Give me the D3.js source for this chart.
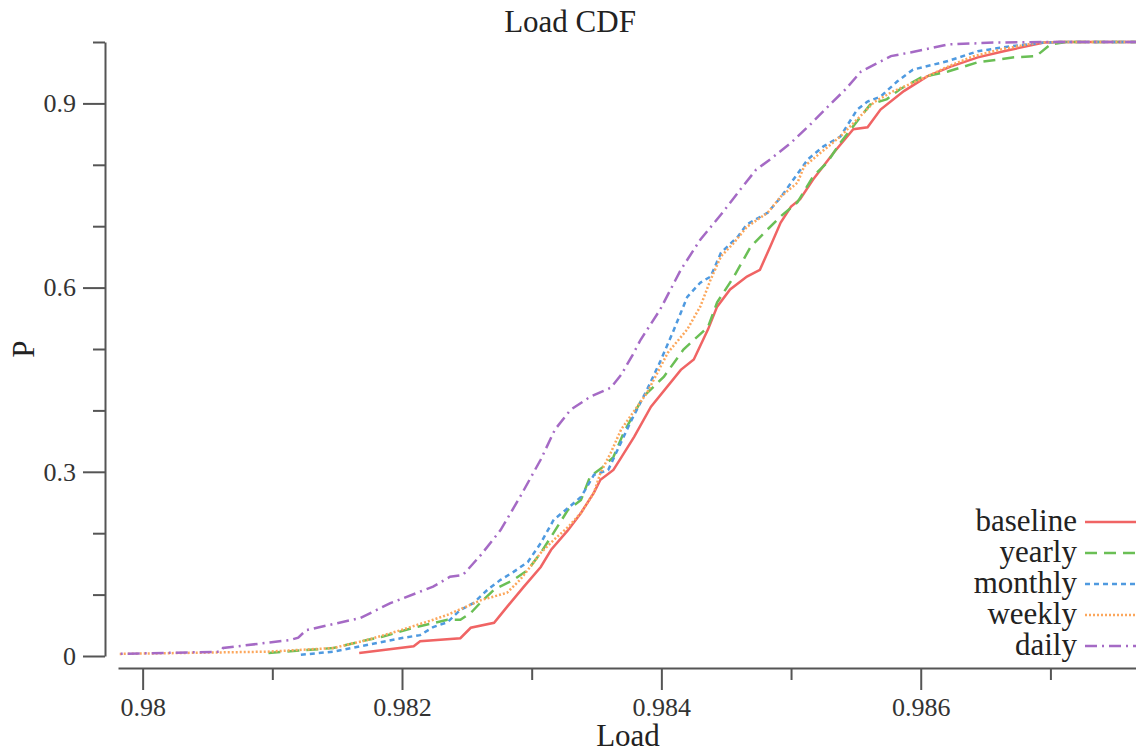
<!DOCTYPE html>
<html lang="en">
    <head>
        <meta charset="utf-8">
        <title>Load CDF</title>
        <script type="text/javascript" src="https://cdn.jsdelivr.net/npm/d3@7"></script>
        <style type="text/css">
            body { margin: 0; background: white; }
            svg { display: block; font-family: "Liberation Serif", "DejaVu Serif", serif; }
            .axis path,
            .axis line {
                fill: none;
                stroke: #555;
                stroke-width: 2px;
            }
            .axis text {
                font-family: "Liberation Serif", serif;
                font-size: 26px;
                fill: #333;
            }
        </style>
    </head>
    <body>
        <script type="text/javascript">

            // Width and height
            var w = 1136;
            var h = 752;

            // Series names, in legend order
            var seriesNames = ["baseline", "yearly", "monthly", "weekly", "daily"];

            // Tick values
            var xMajorTicks = [0.98, 0.982, 0.984, 0.986];
            var xMinorTicks = [0.981, 0.983, 0.985, 0.987];
            var yMajorTicks = [0, 0.3, 0.6, 0.9];
            var yMinorTicks = [0.1, 0.2, 0.4, 0.5, 0.7, 0.8, 1.0];

            // Load values and cumulative probability
            var baselineLoad = [0.98167, 0.98209, 0.98214, 0.98245, 0.98253, 0.98271, 0.98281, 0.98294, 0.98307, 0.98315, 0.98328, 0.98338, 0.98348, 0.98353, 0.98363, 0.98369, 0.98379, 0.98392, 0.98415, 0.98425, 0.98436, 0.98443, 0.98453, 0.98466, 0.98476, 0.98484, 0.98492, 0.98500, 0.98507, 0.98517, 0.98533, 0.98548, 0.98559, 0.98569, 0.98587, 0.98605, 0.98623, 0.98644, 0.98664, 0.98695, 0.98708, 0.98770];
            var baselineP    = [0.005, 0.016, 0.024, 0.029, 0.046, 0.054, 0.080, 0.113, 0.145, 0.173, 0.205, 0.233, 0.266, 0.287, 0.303, 0.323, 0.357, 0.406, 0.466, 0.483, 0.532, 0.569, 0.597, 0.618, 0.629, 0.667, 0.706, 0.732, 0.744, 0.776, 0.820, 0.858, 0.861, 0.890, 0.920, 0.944, 0.960, 0.975, 0.985, 0.999, 1.0, 1.0];

            var yearlyLoad = [0.98097, 0.98147, 0.98173, 0.98184, 0.98209, 0.98235, 0.98245, 0.98253, 0.98261, 0.98271, 0.98286, 0.98297, 0.98307, 0.98317, 0.98328, 0.98338, 0.98345, 0.98355, 0.98363, 0.98371, 0.98386, 0.98402, 0.98417, 0.98436, 0.98443, 0.98456, 0.98469, 0.98482, 0.98492, 0.98505, 0.98517, 0.98528, 0.98538, 0.98548, 0.98561, 0.98574, 0.98584, 0.98600, 0.98621, 0.98644, 0.98672, 0.98689, 0.98700, 0.98712, 0.98770];
            var yearlyP    = [0.005, 0.013, 0.026, 0.031, 0.046, 0.059, 0.059, 0.070, 0.088, 0.108, 0.124, 0.140, 0.168, 0.201, 0.238, 0.254, 0.292, 0.308, 0.324, 0.364, 0.422, 0.455, 0.499, 0.536, 0.576, 0.618, 0.667, 0.695, 0.716, 0.739, 0.781, 0.804, 0.836, 0.863, 0.898, 0.907, 0.923, 0.942, 0.952, 0.967, 0.975, 0.977, 0.996, 1.0, 1.0];

            var monthlyLoad = [0.98122, 0.98147, 0.98199, 0.98214, 0.98224, 0.98235, 0.98245, 0.98255, 0.98266, 0.98276, 0.98286, 0.98297, 0.98307, 0.98317, 0.98328, 0.98338, 0.98348, 0.98359, 0.98376, 0.98389, 0.98399, 0.98409, 0.98420, 0.98430, 0.98438, 0.98446, 0.98459, 0.98466, 0.98482, 0.98492, 0.98513, 0.98525, 0.98538, 0.98551, 0.98559, 0.98569, 0.98582, 0.98594, 0.98621, 0.98644, 0.98669, 0.98695, 0.98708, 0.98770];
            var monthlyP    = [0.002, 0.007, 0.029, 0.034, 0.047, 0.055, 0.075, 0.086, 0.108, 0.124, 0.137, 0.153, 0.184, 0.222, 0.241, 0.259, 0.295, 0.303, 0.380, 0.434, 0.479, 0.528, 0.585, 0.608, 0.618, 0.657, 0.683, 0.703, 0.722, 0.747, 0.809, 0.830, 0.846, 0.890, 0.903, 0.911, 0.936, 0.955, 0.969, 0.985, 0.993, 0.999, 1.0, 1.0];

            var weeklyLoad = [0.97970, 0.98096, 0.98147, 0.98173, 0.98199, 0.98224, 0.98235, 0.98261, 0.98281, 0.98291, 0.98297, 0.98307, 0.98317, 0.98328, 0.98338, 0.98348, 0.98353, 0.98361, 0.98369, 0.98389, 0.98405, 0.98420, 0.98430, 0.98438, 0.98446, 0.98456, 0.98466, 0.98482, 0.98492, 0.98505, 0.98510, 0.98523, 0.98538, 0.98551, 0.98564, 0.98579, 0.98600, 0.98621, 0.98641, 0.98662, 0.98690, 0.98708, 0.98770];
            var weeklyP    = [0.003, 0.007, 0.013, 0.026, 0.042, 0.059, 0.067, 0.091, 0.103, 0.124, 0.140, 0.168, 0.189, 0.210, 0.233, 0.266, 0.298, 0.331, 0.369, 0.429, 0.494, 0.532, 0.569, 0.613, 0.651, 0.673, 0.699, 0.722, 0.748, 0.771, 0.797, 0.820, 0.846, 0.874, 0.902, 0.920, 0.939, 0.960, 0.977, 0.988, 0.999, 1.0, 1.0];

            var dailyLoad = [0.97970, 0.98060, 0.98062, 0.98114, 0.98120, 0.98126, 0.98168, 0.98191, 0.98224, 0.98237, 0.98247, 0.98261, 0.98276, 0.98291, 0.98307, 0.98318, 0.98330, 0.98345, 0.98361, 0.98369, 0.98378, 0.98384, 0.98399, 0.98415, 0.98430, 0.98446, 0.98461, 0.98473, 0.98484, 0.98500, 0.98515, 0.98530, 0.98542, 0.98554, 0.98565, 0.98577, 0.98592, 0.98621, 0.98656, 0.98700, 0.98770];
            var dailyP    = [0.003, 0.007, 0.013, 0.026, 0.030, 0.042, 0.062, 0.086, 0.113, 0.129, 0.132, 0.165, 0.205, 0.259, 0.320, 0.369, 0.401, 0.422, 0.437, 0.458, 0.491, 0.515, 0.564, 0.629, 0.678, 0.719, 0.760, 0.792, 0.809, 0.836, 0.866, 0.898, 0.923, 0.952, 0.964, 0.977, 0.983, 0.996, 0.999, 1.0, 1.0];

            var seriesLoads = [baselineLoad, yearlyLoad, monthlyLoad, weeklyLoad, dailyLoad];
            var seriesPs = [baselineP, yearlyP, monthlyP, weeklyP, dailyP];

            // Line styles
            var colors = ["#f06464", "#6abf55", "#4f9ae0", "#fca75c", "#a56ac5"];
            var dashes = ["none", "12,7", "5,4", "2,2", "12,5,2,5"];

            // Build series
            var series = seriesNames.map(function(name, i) {
                return {
                    name: name,
                    color: colors[i],
                    dash: dashes[i],
                    values: seriesLoads[i].map(function(x, j) { return [x, seriesPs[i][j]]; })
                };
            });

            // Create scales
            var xScale = d3.scaleLinear()
                           .domain([0.97981, 0.98766])
                           .range([118, 1136]);

            var yScale = d3.scaleLinear()
                           .domain([0, 1])
                           .range([656, 42]);

            // Create SVG
            var svg = d3.select("body")
                        .append("svg")
                        .attr("width", w)
                        .attr("height", h);

            // Clipping path
            svg.append("clipPath")
               .attr("id", "chart-area")
               .append("rect")
               .attr("x", 118)
               .attr("y", 0)
               .attr("width", 1136 - 118)
               .attr("height", 666);

            // Title
            svg.append("text")
               .attr("x", 570)
               .attr("y", 32)
               .attr("text-anchor", "middle")
               .attr("font-size", "31px")
               .attr("fill", "#222")
               .text("Load CDF");

            // X axis (minor then major)
            svg.append("g")
               .attr("class", "x axis")
               .attr("transform", "translate(0,668)")
               .call(d3.axisBottom(xScale).tickValues(xMinorTicks).tickSize(12).tickSizeOuter(0).tickFormat(""));

            svg.append("g")
               .attr("class", "x axis")
               .attr("transform", "translate(0,668)")
               .call(d3.axisBottom(xScale).tickValues(xMajorTicks).tickSize(22).tickSizeOuter(0).tickPadding(8).tickFormat(d3.format("")))
               .call(function(g) { g.select(".domain").remove(); });

            // Y axis (minor then major)
            svg.append("g")
               .attr("class", "y axis")
               .attr("transform", "translate(105,0)")
               .call(d3.axisLeft(yScale).tickValues(yMinorTicks).tickSize(12).tickSizeOuter(0).tickFormat(""));

            svg.append("g")
               .attr("class", "y axis")
               .attr("transform", "translate(105,0)")
               .call(d3.axisLeft(yScale).tickValues(yMajorTicks).tickSize(22).tickSizeOuter(0).tickPadding(7).tickFormat(d3.format("")))
               .call(function(g) { g.select(".domain").remove(); });

            // Axis labels
            svg.append("text")
               .attr("x", 628)
               .attr("y", 746)
               .attr("text-anchor", "middle")
               .attr("font-size", "31px")
               .attr("fill", "#222")
               .text("Load");

            svg.append("text")
               .attr("transform", "translate(34,349) rotate(-90)")
               .attr("text-anchor", "middle")
               .attr("font-size", "31px")
               .attr("fill", "#222")
               .text("P");

            // Lines
            var line = d3.line()
                         .x(function(d) { return xScale(d[0]); })
                         .y(function(d) { return yScale(d[1]); });

            svg.append("g")
               .attr("clip-path", "url(#chart-area)")
               .selectAll("path")
               .data(series)
               .enter()
               .append("path")
               .attr("fill", "none")
               .attr("stroke", function(d) { return d.color; })
               .attr("stroke-width", 2.5)
               .attr("stroke-dasharray", function(d) { return d.dash; })
               .attr("d", function(d) { return line(d.values); });

            // Legend
            var legend = svg.append("g")
                            .selectAll("g")
                            .data(series)
                            .enter()
                            .append("g")
                            .attr("transform", function(d, i) { return "translate(0," + (522 + i * 31) + ")"; });

            legend.append("text")
                  .attr("x", 1077)
                  .attr("y", 9)
                  .attr("text-anchor", "end")
                  .attr("font-size", "31px")
                  .attr("fill", "#222")
                  .text(function(d) { return d.name; });

            legend.append("line")
                  .attr("x1", 1085)
                  .attr("x2", 1136)
                  .attr("y1", 0)
                  .attr("y2", 0)
                  .attr("stroke", function(d) { return d.color; })
                  .attr("stroke-width", 2.5)
                  .attr("stroke-dasharray", function(d) { return d.dash; });

        </script>
    </body>
</html>
